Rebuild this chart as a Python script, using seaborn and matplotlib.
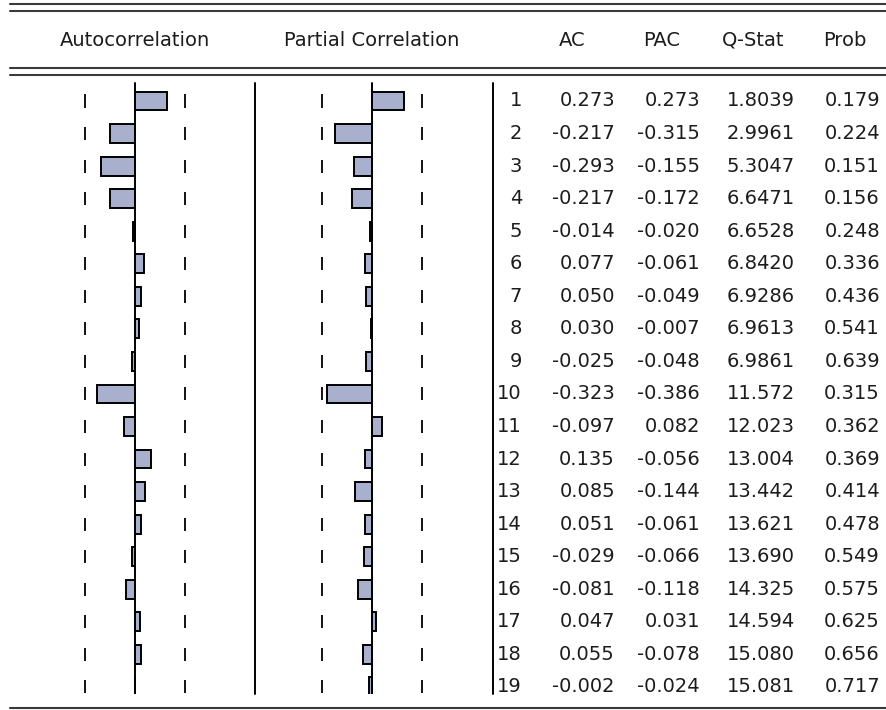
import numpy as np
import pandas as pd
import matplotlib
matplotlib.use("Agg")
import matplotlib.pyplot as plt
from matplotlib.lines import Line2D
import seaborn as sns

# ---------------- data ----------------
lags = list(range(1, 20))
ac = [0.273, -0.217, -0.293, -0.217, -0.014, 0.077, 0.050, 0.030, -0.025, -0.323,
      -0.097, 0.135, 0.085, 0.051, -0.029, -0.081, 0.047, 0.055, -0.002]
pac = [0.273, -0.315, -0.155, -0.172, -0.020, -0.061, -0.049, -0.007, -0.048, -0.386,
       0.082, -0.056, -0.144, -0.061, -0.066, -0.118, 0.031, -0.078, -0.024]
qstat = [1.8039, 2.9961, 5.3047, 6.6471, 6.6528, 6.8420, 6.9286, 6.9613, 6.9861, 11.572,
         12.023, 13.004, 13.442, 13.621, 13.690, 14.325, 14.594, 15.080, 15.081]
prob = [0.179, 0.224, 0.151, 0.156, 0.248, 0.336, 0.436, 0.541, 0.639, 0.315,
        0.362, 0.369, 0.414, 0.478, 0.549, 0.575, 0.625, 0.656, 0.717]
n_obs = 22
headers = ["Autocorrelation", "Partial Correlation", "AC", "PAC", "Q-Stat", "Prob"]

df = pd.DataFrame({"lag": [str(l) for l in lags], "ac": ac, "pac": pac})
bound = 2.0 / np.sqrt(n_obs)

# ---------------- layout helpers (pixels) ----------------
W, H = 887, 710
sns.set_theme(style="white")
plt.rcParams["font.family"] = ["DejaVu Sans"]
fig = plt.figure(figsize=(W / 100, H / 100), dpi=100)
fig.patch.set_facecolor("white")


def fx(px):
    return px / W


def fy(py):
    return 1 - py / H


def add_ax(x0, x1, y0, y1):
    return fig.add_axes([fx(x0), fy(y1), fx(x1) - fx(x0), fy(y0) - fy(y1)])


row0, step = 101.0, 32.55
ax_top, ax_bot = 80.0, 694.0
nrow = len(lags)
ylim = (nrow - 1 + (ax_bot - (row0 + step * (nrow - 1))) / step, -(row0 - ax_top) / step)

bar_color = "#A9B0CE"
text_color = "#1c1c1c"
fs = 14

ax_acf = add_ax(15, 255, ax_top, ax_bot)
ax_pacf = add_ax(253, 491, ax_top, ax_bot)
ax_tab = add_ax(493, 887, ax_top, ax_bot)

for ax, col, lim in [(ax_acf, "ac", 1.026), (ax_pacf, "pac", 1.017)]:
    sns.barplot(data=df, x=col, y="lag", orient="h", color=bar_color, saturation=1,
                edgecolor="black", linewidth=1.4, width=0.58, ax=ax, zorder=2)
    ax.set_xlim(-lim, lim)
    ax.set_ylim(*ylim)
    ax.axvline(0, color="black", lw=1.4, ymin=0, ymax=0.995, zorder=3)
    ypos = np.arange(nrow)
    ax.vlines([-bound] * nrow, ypos - 0.2, ypos + 0.2, color="black", lw=1.3)
    ax.vlines([bound] * nrow, ypos - 0.2, ypos + 0.2, color="black", lw=1.3)
    ax.axis("off")

# ---------------- table ----------------
ax_tab.set_xlim(493, 887)
ax_tab.set_ylim(*ylim)
ax_tab.axis("off")


def fmt_q(q):
    return f"{q:.4f}" if q < 10 else f"{q:.3f}"


col_right = [522, 615, 700, 795, 880]
for i in range(nrow):
    vals = [str(lags[i]), f"{ac[i]:.3f}", f"{pac[i]:.3f}", fmt_q(qstat[i]), f"{prob[i]:.3f}"]
    for xr, v in zip(col_right, vals):
        ax_tab.text(xr, i, v, ha="right", va="center", fontsize=fs, color=text_color)

# ---------------- headers ----------------
head_x = [135, 372, 572, 662, 753, 845]
for hx, h in zip(head_x, headers):
    fig.text(fx(hx), fy(40), h, ha="center", va="center", fontsize=fs, color=text_color)

# ---------------- rules ----------------
rule_c = "#3a3a3a"
for py in [4, 11, 68, 75]:
    fig.add_artist(Line2D([fx(10), fx(887)], [fy(py), fy(py)], color=rule_c, lw=1.5))
fig.add_artist(Line2D([fx(10), fx(887)], [fy(708), fy(708)], color=rule_c, lw=1.5))
for px in [255, 493]:
    fig.add_artist(Line2D([fx(px), fx(px)], [fy(83), fy(694)], color="black", lw=1.4))

fig.savefig("out.png", dpi=100, facecolor="white")
